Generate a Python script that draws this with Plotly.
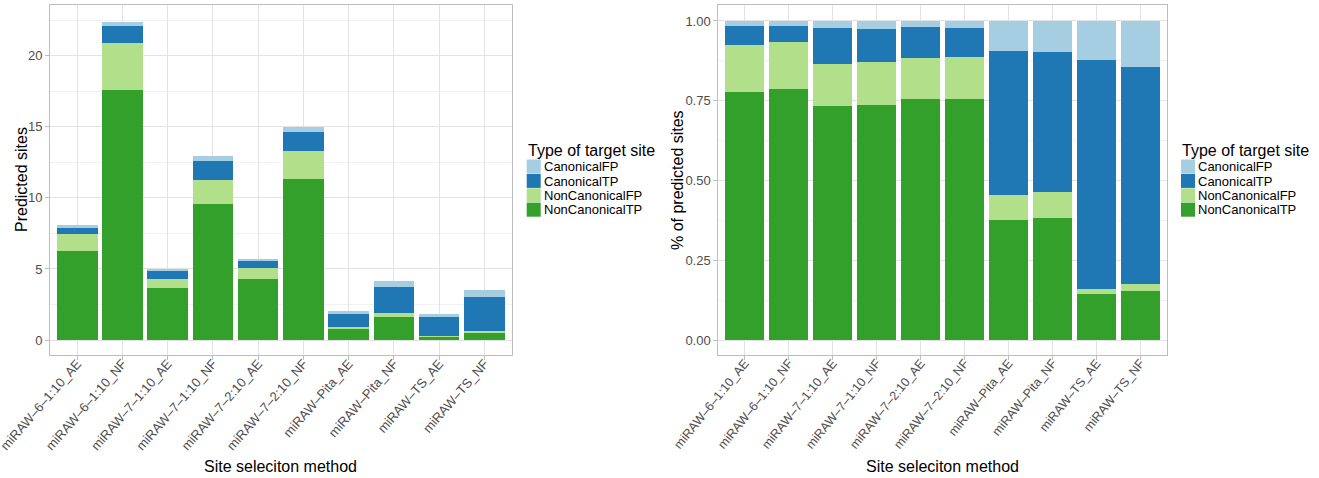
import plotly.graph_objects as go

# Site selection methods (x categories)
methods = [
    "miRAW–6–1:10_AE", "miRAW–6–1:10_NF",
    "miRAW–7–1:10_AE", "miRAW–7–1:10_NF",
    "miRAW–7–2:10_AE", "miRAW–7–2:10_NF",
    "miRAW–Pita_AE", "miRAW–Pita_NF",
    "miRAW–TS_AE", "miRAW–TS_NF",
]

# Mean number of predicted sites per type of target site
noncanonical_tp = [6.27, 17.60, 3.66, 9.54, 4.30, 11.31, 0.77, 1.59, 0.26, 0.54]
noncanonical_fp = [1.19, 3.29, 0.65, 1.73, 0.74, 1.98, 0.16, 0.34, 0.03, 0.08]
canonical_tp = [0.48, 1.19, 0.56, 1.35, 0.55, 1.36, 0.93, 1.82, 1.31, 2.39]
canonical_fp = [0.13, 0.32, 0.11, 0.32, 0.11, 0.33, 0.19, 0.40, 0.22, 0.51]

site_types = ["NonCanonicalTP", "NonCanonicalFP", "CanonicalTP", "CanonicalFP"]
series = [noncanonical_tp, noncanonical_fp, canonical_tp, canonical_fp]
colors = {
    "CanonicalFP": "#A6CEE3",
    "CanonicalTP": "#1F78B4",
    "NonCanonicalFP": "#B2DF8A",
    "NonCanonicalTP": "#33A02C",
}

totals = [sum(v) for v in zip(*series)]
fractions = [[v / t for v, t in zip(s, totals)] for s in series]

W, H = 1319, 478
FONT = "Liberation Sans, Arial, Helvetica, sans-serif"
GRID = "#E3E3E3"
MINOR = "#F1F1F1"
BORDER = "#BDBDBD"
TICKTXT = "#4D4D4D"


def px(x):
    return x / W


def py(y):
    return 1 - y / H


fig = go.Figure()

for name, vals, frac in zip(site_types, series, fractions):
    fig.add_trace(go.Bar(x=methods, y=vals, name=name, marker_color=colors[name],
                         marker_line_width=0, xaxis="x", yaxis="y", showlegend=False))
    fig.add_trace(go.Bar(x=methods, y=frac, name=name, marker_color=colors[name],
                         marker_line_width=0, xaxis="x2", yaxis="y2", showlegend=False))

y_dom = [py(355), py(5)]

common_x = dict(
    type="category", range=[-0.6, 9.6],
    showgrid=True, gridcolor=GRID, gridwidth=1,
    showline=True, linecolor=BORDER, linewidth=1, mirror=True,
    ticks="outside", ticklen=4, tickcolor=BORDER, automargin=False,
    zeroline=False,
)
common_y = dict(
    tickfont=dict(family=FONT, size=13, color=TICKTXT),
    showgrid=True, gridcolor=GRID, gridwidth=1,
    showline=True, linecolor=BORDER, linewidth=1, mirror=True,
    ticks="outside", ticklen=4, tickcolor=BORDER, automargin=False,
    zeroline=False, domain=y_dom,
)

fig.update_layout(
    width=W, height=H,
    margin=dict(l=0, r=0, t=0, b=0),
    paper_bgcolor="white", plot_bgcolor="white",
    barmode="stack", bargap=0.1,
    showlegend=False,
    font=dict(family=FONT, color="black"),
    xaxis=dict(domain=[px(50), px(511.5)], anchor="y", tickangle=-49,
               tickfont=dict(family=FONT, size=13, color=TICKTXT),
               ticklabelstandoff=-9, **common_x),
    yaxis=dict(anchor="x", range=[-1.05, 23.57], tickvals=[0, 5, 10, 15, 20],
               minor=dict(tickvals=[2.5, 7.5, 12.5, 17.5, 22.5], showgrid=True,
                          gridcolor=MINOR, gridwidth=1, ticks=""),
               **common_y),
    xaxis2=dict(domain=[px(718.3), px(1166.7)], anchor="y2", tickangle=-51,
                tickfont=dict(family=FONT, size=12.5, color=TICKTXT),
                ticklabelstandoff=-9, **common_x),
    yaxis2=dict(anchor="x2", range=[-0.047, 1.050], tickvals=[0, 0.25, 0.5, 0.75, 1.0],
                ticktext=["0.00", "0.25", "0.50", "0.75", "1.00"],
                minor=dict(tickvals=[0.125, 0.375, 0.625, 0.875], showgrid=True,
                           gridcolor=MINOR, gridwidth=1, ticks=""),
                **common_y),
)

annotations = []
shapes = []

# Axis titles
for cx, txt in [(21, "Predicted sites"), (677, "% of predicted sites")]:
    annotations.append(dict(x=px(cx), y=py(180), xref="paper", yref="paper",
                            text=txt, textangle=-90, showarrow=False,
                            xanchor="center", yanchor="middle",
                            font=dict(family=FONT, size=16, color="black")))
for cx in [280.7, 942.5]:
    annotations.append(dict(x=px(cx), y=py(466), xref="paper", yref="paper",
                            text="Site seleciton method", showarrow=False,
                            xanchor="center", yanchor="middle",
                            font=dict(family=FONT, size=16, color="black")))

# Legends (one per panel)
legend_order = ["CanonicalFP", "CanonicalTP", "NonCanonicalFP", "NonCanonicalTP"]
for lx in [526.7, 1181]:
    annotations.append(dict(x=px(lx - 1), y=py(150.5), xref="paper", yref="paper",
                            text="Type of target site", showarrow=False,
                            xanchor="left", yanchor="middle",
                            font=dict(family=FONT, size=16, color="black")))
    for i, name in enumerate(legend_order):
        top = 159.5 + i * 14.4
        shapes.append(dict(type="rect", xref="paper", yref="paper",
                           x0=px(lx), x1=px(lx + 14), y0=py(top), y1=py(top + 14.0),
                           fillcolor=colors[name], line=dict(width=0)))
        annotations.append(dict(x=px(lx + 15), y=py(top + 7.2), xref="paper", yref="paper",
                                text=name, showarrow=False,
                                xanchor="left", yanchor="middle",
                                font=dict(family=FONT, size=13, color="black")))

fig.update_layout(annotations=annotations, shapes=shapes)

fig.write_html("out.html")
